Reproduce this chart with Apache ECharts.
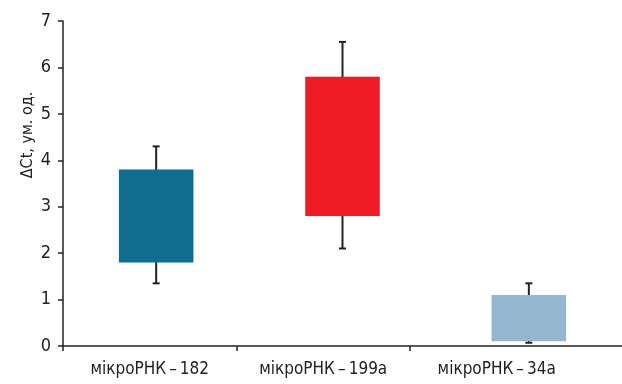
<!DOCTYPE html>
<html>
<head>
<meta charset="utf-8">
<script src="https://cdn.jsdelivr.net/npm/echarts@6/dist/echarts.min.js"></script>
<style>
html,body{margin:0;padding:0;background:#fff;}
#main{width:622px;height:384px;}
</style>
</head>
<body>
<div id="main"></div>
<script>
const categories = ['мікроРНК\u2009–\u2009182', 'мікроРНК\u2009–\u2009199a', 'мікроРНК\u2009–\u200934a'];
const boxLow = [1.8, 2.8, 0.1];
const boxHigh = [3.8, 5.8, 1.1];
const whiskerLow = [1.35, 2.1, 0.07];
const whiskerHigh = [4.3, 6.55, 1.35];
const boxColors = ['#106c90', '#ee1c25', '#95b6cf'];
const yTickValues = [0, 1, 2, 3, 4, 5, 6, 7];
const yAxisTitle = 'ΔCt, ум. од.';

const FONT = '"Liberation Sans Narrow", "DejaVu Sans Condensed", Roboto, sans-serif';
const INK = '#222';

const chart = echarts.init(document.getElementById('main'), null, {renderer: 'canvas'});

const seriesData = categories.map((c, i) => [i, boxLow[i], boxHigh[i], whiskerLow[i], whiskerHigh[i]]);

chart.setOption({
  animation: false,
  backgroundColor: '#fff',
  grid: [
    {left: 63, right: 0, top: 21, bottom: 38},
    {left: 63, right: 38.5, top: 21, bottom: 38}
  ],
  xAxis: [
    {
      type: 'category', gridIndex: 0, data: categories,
      axisLine: {lineStyle: {color: INK, width: 1.5}},
      axisTick: {show: false}, axisLabel: {show: false}
    },
    {
      type: 'value', gridIndex: 1, min: 0, max: categories.length,
      axisLine: {show: false}, splitLine: {show: false},
      axisTick: {show: true, length: 5, lineStyle: {color: INK, width: 1.5},
        customValues: categories.map((c, i) => i)},
      axisLabel: {
        customValues: categories.map((c, i) => i + 0.5),
        formatter: v => categories[Math.round(v - 0.5)],
        color: INK, fontFamily: FONT, fontSize: 17, margin: 15
      }
    }
  ],
  yAxis: [
    {
      type: 'value', gridIndex: 0, min: yTickValues[0], max: yTickValues[yTickValues.length - 1], interval: 1,
      axisLine: {show: true, lineStyle: {color: INK, width: 1.5}},
      axisTick: {show: true, length: 5, lineStyle: {color: INK, width: 1.5}},
      splitLine: {show: false},
      axisLabel: {color: INK, fontFamily: FONT, fontSize: 18, margin: 12}
    },
    {type: 'value', gridIndex: 1, min: 0, max: 7, show: false}
  ],
  graphic: [{
    type: 'text', x: 28, y: 135, rotation: Math.PI / 2,
    style: {text: yAxisTitle, fill: INK, font: '16px ' + FONT, align: 'center', verticalAlign: 'middle'}
  }],
  series: [{
    type: 'custom', xAxisIndex: 0, yAxisIndex: 0,
    data: seriesData,
    renderItem: function (params, api) {
      const idx = api.value(0);
      const x = api.coord([idx, 0])[0];
      const yBL = api.coord([idx, api.value(1)])[1];
      const yBH = api.coord([idx, api.value(2)])[1];
      const yWL = api.coord([idx, api.value(3)])[1];
      const yWH = api.coord([idx, api.value(4)])[1];
      const bw = api.size([1, 0])[0] * 0.4;
      const cap = 3.5;
      const ls = {stroke: INK, lineWidth: 2};
      return {
        type: 'group',
        children: [
          {type: 'line', shape: {x1: x, y1: yWH, x2: x, y2: yWL}, style: ls},
          {type: 'line', shape: {x1: x - cap, y1: yWH, x2: x + cap, y2: yWH}, style: ls},
          {type: 'line', shape: {x1: x - cap, y1: yWL, x2: x + cap, y2: yWL}, style: ls},
          {type: 'rect', shape: {x: x - bw / 2, y: yBH, width: bw, height: yBL - yBH},
            style: {fill: boxColors[idx]}}
        ]
      };
    }
  }]
});
</script>
</body>
</html>
